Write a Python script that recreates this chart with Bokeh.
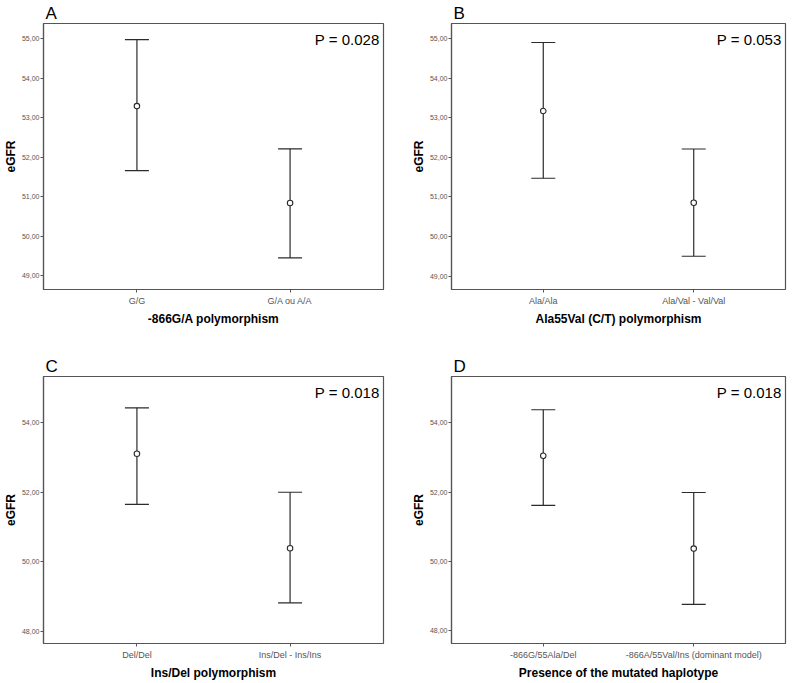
from bokeh.plotting import figure
from bokeh.models import Range1d, FixedTicker, Label, ColumnDataSource
from bokeh.layouts import gridplot
from bokeh.embed import file_html
from bokeh.resources import INLINE

FONT = "Liberation Sans"

# ---- data ----
a_cats = ["G/G", "G/A ou A/A"]
a_mean = [53.29, 50.84]
a_low = [51.66, 49.45]
a_high = [54.97, 52.21]
a_p = "P = 0.028"
a_xtitle = "-866G/A polymorphism"

b_cats = ["Ala/Ala", "Ala/Val - Val/Val"]
b_mean = [53.17, 50.85]
b_low = [51.47, 49.50]
b_high = [54.90, 52.21]
b_p = "P = 0.053"
b_xtitle = "Ala55Val (C/T) polymorphism"

c_cats = ["Del/Del", "Ins/Del - Ins/Ins"]
c_mean = [53.11, 50.39]
c_low = [51.65, 48.82]
c_high = [54.43, 52.00]
c_p = "P = 0.018"
c_xtitle = "Ins/Del polymorphism"

d_cats = ["-866G/55Ala/Del", "-866A/55Val/Ins (dominant model)"]
d_mean = [53.05, 50.37]
d_low = [51.62, 48.76]
d_high = [54.38, 51.99]
d_p = "P = 0.018"
d_xtitle = "Presence of the mutated haplotype"

ab_yticks = [49, 50, 51, 52, 53, 54, 55]
ab_ylabels = ["49,00", "50,00", "51,00", "52,00", "53,00", "54,00", "55,00"]
cd_yticks = [48, 50, 52, 54]
cd_ylabels = ["48,00", "50,00", "52,00", "54,00"]
y_title = "eGFR"

LINE = "#2b2b2b"
FRAME = "#555555"
TICKTXT = "#555555"


def panel(letter, cats, mean, low, high, ptxt, xtitle, yticks, ylabels, ylim,
          left, right, top, bottom, fw, fh):
    xs = [i + 1 for i in range(len(cats))]
    src = ColumnDataSource(dict(x=xs, mean=mean, low=low, high=high))
    xr = (0.39, 2.61)
    p = figure(frame_width=fw, frame_height=fh,
               min_border_left=left, min_border_right=right,
               min_border_top=top, min_border_bottom=bottom,
               x_range=Range1d(*xr), y_range=Range1d(*ylim),
               output_backend="svg", toolbar_location=None,
               background_fill_color="white", border_fill_color="white")
    p.grid.visible = False
    p.outline_line_color = FRAME
    p.outline_line_width = 1.2

    p.title.text = letter
    p.title.align = "left"
    p.title.offset = 2
    p.title.standoff = 2
    p.title.text_font = FONT
    p.title.text_font_size = "17px"
    p.title.text_font_style = "normal"
    p.title.text_color = "black"

    p.segment(x0="x", y0="low", x1="x", y1="high", source=src,
              line_color=LINE, line_width=1.2)
    p.scatter("x", "high", marker="dash", size=24, source=src,
              line_color=LINE, line_width=1.2)
    p.scatter("x", "low", marker="dash", size=24, source=src,
              line_color=LINE, line_width=1.2)
    p.scatter("x", "mean", marker="circle", size=5.5, source=src,
              fill_color="white", line_color=LINE, line_width=1.1)

    p.xaxis.ticker = FixedTicker(ticks=xs)
    p.xaxis.major_label_overrides = {x: c for x, c in zip(xs, cats)}
    p.yaxis.ticker = FixedTicker(ticks=yticks)
    p.yaxis.major_label_overrides = {t: l for t, l in zip(yticks, ylabels)}

    for ax in (p.xaxis[0], p.yaxis[0]):
        ax.axis_line_color = FRAME
        ax.axis_line_width = 1.2
        ax.major_tick_line_color = FRAME
        ax.major_tick_out = 3
        ax.major_tick_in = 0
        ax.minor_tick_line_color = None
        ax.major_label_text_color = TICKTXT
        ax.major_label_text_font = FONT
        ax.axis_label_text_font = FONT
        ax.axis_label_text_font_style = "bold"
        ax.axis_label_text_font_size = "12px"
        ax.axis_label_text_color = "black"

    p.xaxis.major_label_text_font_size = "9px"
    p.xaxis.major_label_standoff = 3
    p.xaxis.axis_label = xtitle
    p.xaxis.axis_label_standoff = 3

    p.yaxis.major_label_text_font_size = "7px"
    p.yaxis.major_label_standoff = 1
    p.yaxis.axis_label = y_title
    p.yaxis.axis_label_standoff = 1

    p.add_layout(Label(x=xr[1], y=ylim[1], text=ptxt, x_offset=-4, y_offset=-7,
                       text_baseline="top", text_align="right",
                       text_font=FONT, text_font_size="15px", text_color="black"))
    return p


pa = panel("A", a_cats, a_mean, a_low, a_high, a_p, a_xtitle, ab_yticks, ab_ylabels,
           (48.65, 55.38), 33, 20, 20, 57, 340, 266)
pb = panel("B", b_cats, b_mean, b_low, b_high, b_p, b_xtitle, ab_yticks, ab_ylabels,
           (48.66, 55.38), 48, 2, 20, 57, 334, 266)
pc = panel("C", c_cats, c_mean, c_low, c_high, c_p, c_xtitle, cd_yticks, cd_ylabels,
           (47.65, 55.33), 33, 20, 30, 36, 340, 267)
pd_ = panel("D", d_cats, d_mean, d_low, d_high, d_p, d_xtitle, cd_yticks, cd_ylabels,
            (47.63, 55.34), 48, 2, 30, 36, 334, 267)

grid = gridplot([[pa, pb], [pc, pd_]], toolbar_location=None)

open("out.html", "w").write(file_html(grid, INLINE))
